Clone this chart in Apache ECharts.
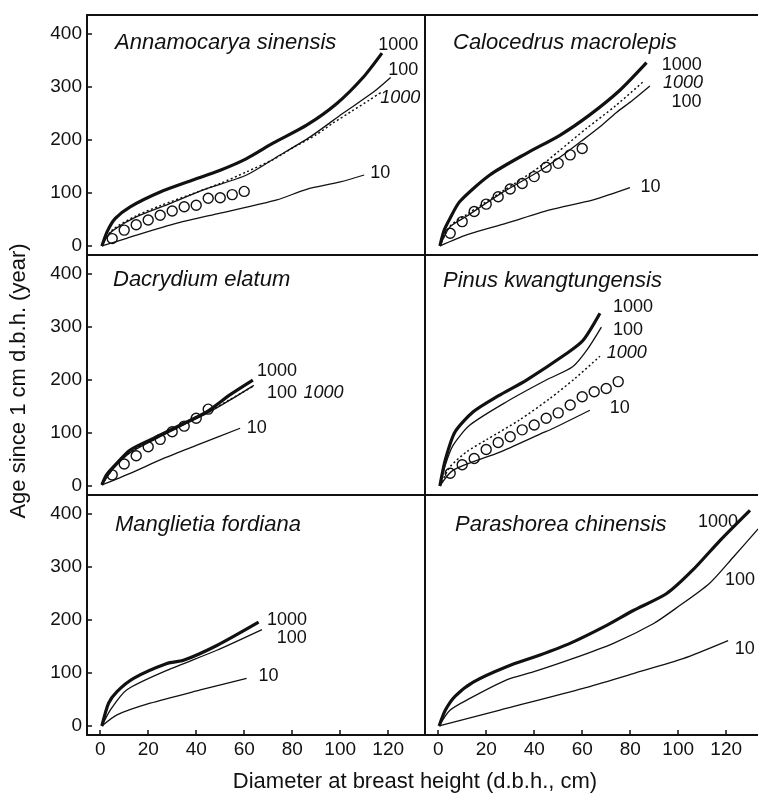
<!DOCTYPE html>
<html><head><meta charset="utf-8">
<script src="https://cdn.jsdelivr.net/npm/echarts@6/dist/echarts.min.js"></script>
<style>html,body{margin:0;padding:0;background:#fff}#c{width:758px;height:794px}</style>
</head><body><div id="c"></div>
<script>
// ---------- data ----------
const speciesNames = ['Annamocarya sinensis','Calocedrus macrolepis','Dacrydium elatum','Pinus kwangtungensis','Manglietia fordiana','Parashorea chinensis'];
const xTicks = [0,20,40,60,80,100,120];
const yTicks = [0,100,200,300,400];
const xTitle = 'Diameter at breast height (d.b.h., cm)';
const yTitle = 'Age since 1 cm d.b.h. (year)';

// observed circles: d.b.h. (cm) and age
const circleDbh = [5,10,15,20,25,30,35,40,45,50,55,60,65,70,75];

// Annamocarya sinensis
const annThick  = [[0.7,0],[3,28],[6.3,52],[12.5,74],[25,102],[38.9,125],[50,143],[61,165],[72,194],[86,228],[98.6,269],[109.7,319],[117.4,364]];
const annThin   = [[0.7,0],[2.5,15],[5.5,30],[15,55],[29,80],[43,106],[61,134],[73.6,168],[87.5,206],[101,250],[114,291],[121,318]];
const annDotted = [[0.7,0],[5,30],[15,57],[25,76],[37.5,97],[50,118],[61,140],[72,163],[80.5,186],[90,210],[97,232],[105,255],[112,275],[117,290]];
const annTen    = [[0.7,0],[11,14.5],[32,43],[50,62],[73.6,87],[86,107],[100,121],[110,134]];
const annCircles = [14,30,40,49,58,66,74,77,90,91,97,103];

// Calocedrus macrolepis
const calThick  = [[0.7,0],[2.5,30],[4.9,52],[9,84],[21.5,134],[36.8,175],[50.7,209],[63,247],[75.7,294],[86.8,346]];
const calThin   = [[0.7,0],[4.9,36],[11.8,56],[25.7,98],[42.4,142],[50,165],[59.7,198],[67.4,225],[74.3,252],[81,275],[88.2,302]];
const calDotted = [[0.7,0],[5,38],[12,60],[25.7,100],[35,127],[42.4,150],[50,178],[61.8,222],[74,265],[85.4,310]];
const calTen    = [[0.7,0],[11.8,21],[28.5,43],[46.5,68],[64.6,87],[79.9,110]];
const calCircles = [24,46,65,79,93,107.5,118,131,148.5,156,172,184];

// Dacrydium elatum
const dacThick  = [[0.7,2],[2.5,20],[5.5,36],[12.5,68],[23.6,93],[33.3,115],[44.4,140],[54,172],[63.6,200]];
const dacThin   = [[0.7,2],[5.5,33],[12.5,63],[23.6,90],[33.3,112],[44.4,137],[54,162],[64,190]];
const dacDotted = [[0.7,2],[5.5,34],[12.5,64],[23.6,91],[33.3,113],[44.4,138],[54,163],[64,189]];
const dacTen    = [[0.7,2],[12.5,24],[26.4,52],[40.3,77],[58.3,109]];
const dacCircles = [21,41.5,57,74,88,102.5,113,128,145];

// Pinus kwangtungensis
const pinThick  = [[0.7,0],[3,50],[7,102],[14.6,140],[25,170],[36.8,200],[53.5,250],[60.4,275],[67.4,326]];
const pinThin   = [[0.7,0],[3,40],[6.25,77],[13.2,115],[28.5,159],[45,200],[56,225],[62,257],[68,300]];
const pinDotted = [[0.7,0],[4.9,36],[12,65],[20,87],[34,125],[46.5,165],[57,203],[67.4,245]];
const pinTen    = [[0.7,0],[6.25,30],[25.7,64],[42.4,98],[48,109],[63.2,143]];
const pinCircles = [24,40,52,69,82,93,106,115,128,138,153,168.5,178,184,197];

// Manglietia fordiana
const manThick  = [[0.7,0],[3.5,43],[7,65],[13.9,90],[27.8,118],[34.7,124],[48.6,152],[66,196]];
const manThin   = [[0.7,0],[4.2,30],[11,68],[27.8,105],[48.6,143],[67.4,182]];
const manTen    = [[0.7,0],[7,21],[20.8,43],[41.7,68],[61,90]];

// Parashorea chinensis
const parThick  = [[0.4,0],[3,30],[7,56],[14.6,83],[28.5,112],[42.4,134],[54.9,156],[70.2,190],[81.3,218],[95.2,250],[106,294],[117.4,350],[129.9,407]];
const parThin   = [[0.4,0],[5,30],[13.2,52],[28.5,87],[39.6,102],[56,127],[73,156],[89.6,193],[99,222],[113,269],[123,319],[133.3,372]];
const parTen    = [[0.4,0],[25.7,30],[60.4,71],[81.3,99],[102,127],[120.8,161]];

// curve labels: [dbh, age, text, italic]
const annLabels = [[115.8,379,'1000',0],[120,332,'100',0],[116.7,279,'1000',1],[112.5,138,'10',0]];
const calLabels = [[93.1,341,'1000',0],[93.7,307,'1000',1],[97.2,272,'100',0],[84.3,112,'10',0]];
const dacLabels = [[65.3,217,'1000',0],[69.5,175,'100',0],[84.7,175,'1000',1],[61.1,109,'10',0]];
const pinLabels = [[72.8,338,'1000',0],[72.8,294,'100',0],[70.2,251,'1000',1],[71.5,147,'10',0]];
const manLabels = [[69.5,200,'1000',0],[73.6,166,'100',0],[66,94,'10',0]];
const parLabels = [[108.2,385,'1000',0],[119.5,275,'100',0],[123.6,146,'10',0]];

// ---------- chart ----------
const FONT = '"Liberation Sans", Arial, Helvetica, sans-serif';
const INK = '#111';
const panels = [
  {thick:annThick, thin:annThin, dotted:annDotted, ten:annTen, circles:annCircles, labels:annLabels},
  {thick:calThick, thin:calThin, dotted:calDotted, ten:calTen, circles:calCircles, labels:calLabels},
  {thick:dacThick, thin:dacThin, dotted:dacDotted, ten:dacTen, circles:dacCircles, labels:dacLabels},
  {thick:pinThick, thin:pinThin, dotted:pinDotted, ten:pinTen, circles:pinCircles, labels:pinLabels},
  {thick:manThick, thin:manThin, ten:manTen, labels:manLabels},
  {thick:parThick, thin:parThin, ten:parTen, labels:parLabels}
];
const colLeft = [87, 425], colWidth = [338, 333], rowTop = [15, 255, 495], rowH = 240;
const xMax = [135.33, 133.25];
const titlePos = [[115,32],[453,32],[113,269],[443,270],[115,514],[455,514]];

const grid = [], xAxis = [], yAxis = [], series = [], title = [];
panels.forEach((pn, p) => {
  const row = Math.floor(p/2), col = p%2;
  grid.push({left: colLeft[col], top: rowTop[row], width: colWidth[col], height: rowH});
  xAxis.push({gridIndex:p, type:'value', min:-5.5, max:xMax[col],
    axisLine:{show:true, onZero:false, lineStyle:{color:INK, width:2}},
    axisTick:{show: row===2, inside:true, length:5, customValues:xTicks, lineStyle:{color:INK, width:1.5}},
    axisLabel:{show: row===2, customValues:xTicks, fontSize:19, color:INK, fontFamily:FONT, margin:5},
    splitLine:{show:false}});
  yAxis.push({gridIndex:p, type:'value', min:-17, max:436,
    axisLine:{show:true, onZero:false, lineStyle:{color:INK, width:2}},
    axisTick:{show: col===0, inside:true, length:5, customValues:yTicks, lineStyle:{color:INK, width:1.5}},
    axisLabel:{show: col===0, customValues:yTicks, fontSize:19, color:INK, fontFamily:FONT, margin:5},
    splitLine:{show:false}});
  title.push({text: speciesNames[p], left: titlePos[p][0], top: titlePos[p][1], padding:0,
    textStyle:{fontStyle:'italic', fontWeight:'normal', fontSize:22, color:INK, fontFamily:FONT}});
  const base = {xAxisIndex:p, yAxisIndex:p, silent:true, animation:false};
  const lineBase = Object.assign({type:'line', symbol:'none', smooth:0.25, clip:true}, base);
  series.push(Object.assign({}, lineBase, {data: pn.ten, lineStyle:{color:INK, width:1.3}}));
  series.push(Object.assign({}, lineBase, {data: pn.thin, lineStyle:{color:INK, width:1.3}}));
  if (pn.dotted) series.push(Object.assign({}, lineBase, {data: pn.dotted, lineStyle:{color:INK, width:1.5, type:[2,2.5]}}));
  series.push(Object.assign({}, lineBase, {data: pn.thick, lineStyle:{color:INK, width:3.2}}));
  if (pn.circles) series.push(Object.assign({type:'scatter', symbol:'circle', symbolSize:10,
    itemStyle:{color:'rgba(0,0,0,0)', borderColor:INK, borderWidth:1.4, opacity:1},
    data: pn.circles.map((a,i) => [circleDbh[i], a])}, base));
  series.push(Object.assign({type:'scatter', symbolSize:0, itemStyle:{opacity:1},
    data: pn.labels.map(l => ({value:[l[0], l[1]], name:l[2],
      label:{fontStyle: l[3] ? 'italic' : 'normal'}})),
    label:{show:true, position:'right', distance:0, formatter:'{b}', fontSize:18, color:INK, fontFamily:FONT, opacity:1}}, base));
});
// top frame line
[0,1].forEach(p => {
  xAxis.push({gridIndex:p, type:'value', position:'top', min:-5.5, max:xMax[p],
    axisLine:{show:true, onZero:false, lineStyle:{color:INK, width:2}},
    axisTick:{show:false}, axisLabel:{show:false}, splitLine:{show:false}});
});

const chart = echarts.init(document.getElementById('c'), null, {renderer:'canvas'});
chart.setOption({
  animation:false,
  backgroundColor:'#fff',
  title, grid, xAxis, yAxis, series,
  graphic:[
    {type:'text', x:19, y:381, rotation:Math.PI/2, style:{text:yTitle, font:'22px '+FONT, fill:INK, textAlign:'center', textVerticalAlign:'middle'}},
    {type:'text', x:415, y:782, style:{text:xTitle, font:'22px '+FONT, fill:INK, textAlign:'center', textVerticalAlign:'middle'}}
  ]
});
</script></body></html>
